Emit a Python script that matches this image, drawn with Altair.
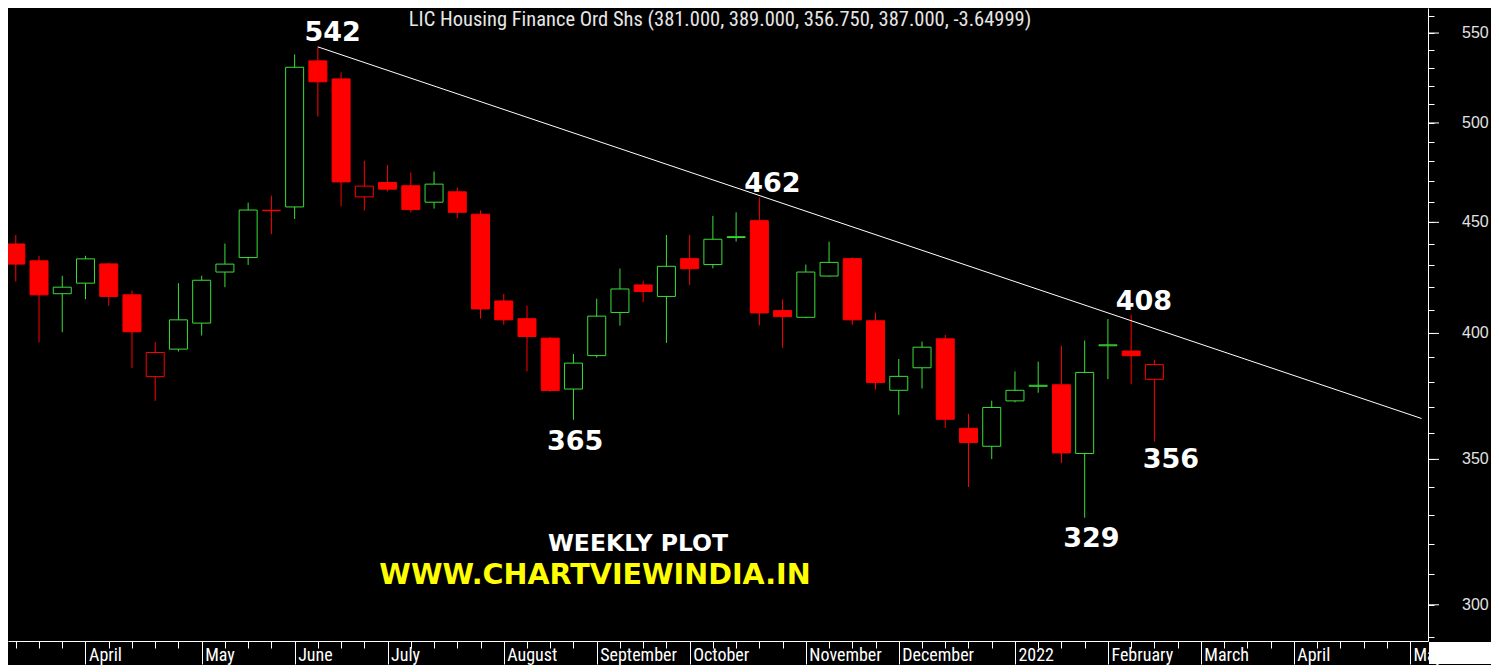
import altair as alt
import numpy as np
import pandas as pd

# ---------------- data (weekly candles) ----------------
bar_index = list(range(50))
opens = [439.8, 432.0, 417.2, 421.9, 430.6, 416.7, 382.1, 393.4, 404.4, 426.9,
         433.5, 455.8, 457.4, 534.0, 523.9, 462.3, 469.4, 467.8, 459.7, 464.8,
         453.9, 414.0, 406.3, 398.0, 377.1, 390.7, 409.0, 421.1, 416.0, 433.0,
         430.3, 442.8, 450.8, 409.8, 406.9, 425.1, 433.0, 405.4, 376.6, 385.7,
         397.7, 361.7, 354.9, 372.4, 378.2, 378.8, 352.2, 394.8, 392.6, 381.0]
highs = [444.0, 434.3, 425.2, 434.3, 431.0, 418.6, 396.4, 421.9, 425.2, 440.0,
         459.5, 462.9, 537.7, 542.0, 527.6, 480.3, 478.2, 474.4, 474.9, 466.9,
         455.7, 417.1, 412.0, 398.4, 391.4, 415.0, 428.5, 423.0, 444.0, 444.0,
         453.1, 454.8, 462.0, 414.7, 430.3, 440.9, 433.5, 408.9, 389.3, 396.6,
         399.4, 367.3, 372.5, 384.2, 388.2, 394.8, 397.0, 406.2, 408.0, 389.0]
lows = [422.6, 396.2, 400.5, 414.8, 411.9, 385.6, 372.4, 392.4, 399.1, 420.1,
        430.1, 444.4, 451.6, 503.4, 457.7, 455.7, 465.0, 454.8, 456.6, 452.0,
        406.3, 403.7, 384.2, 376.0, 365.0, 389.9, 403.3, 413.5, 396.0, 421.1,
        428.6, 440.9, 403.4, 393.9, 406.5, 424.8, 403.7, 376.9, 366.9, 377.3,
        361.9, 339.9, 350.1, 371.8, 375.6, 348.6, 329.0, 381.1, 379.0, 356.75]
closes = [430.5, 416.7, 420.1, 432.9, 416.0, 400.7, 392.0, 405.8, 423.2, 430.5,
          455.9, 455.6, 530.4, 522.3, 469.7, 467.6, 466.1, 456.1, 468.6, 454.8,
          410.5, 405.8, 398.7, 376.5, 387.6, 407.4, 419.3, 418.2, 429.5, 428.4,
          442.0, 443.2, 408.8, 407.2, 426.9, 431.3, 405.8, 379.7, 382.2, 394.2,
          365.2, 356.3, 369.8, 376.6, 378.6, 352.4, 383.8, 395.2, 390.65, 387.0]

# month start bars (x-axis labels)
month_starts = [3, 8, 12, 16, 21, 25, 29, 34, 38, 43, 47, 51, 55, 60]
month_names = ["April", "May", "June", "July", "August", "September", "October",
               "November", "December", "2022", "February", "March", "April", "May"]
week_ticks = list(range(0, 61))

# price axis ticks
price_ticks = list(range(290, 561, 10))
price_major = [300, 350, 400, 450, 500, 550]
price_major_labels = ["300", "350", "400", "450", "500", "550"]

# trend line (two anchor points)
trend_x = [13, 60.5]
trend_y = [542.0, 365.5]

# annotations
ann_text = ["542", "462", "365", "408", "329", "356"]
ann_x = [13.64, 32.56, 24.07, 48.55, 46.29, 49.71]
ann_y = [550.0, 468.7, 356.6, 413.6, 321.7, 349.8]

title_text = "LIC Housing Finance Ord Shs (381.000, 389.000, 356.750, 387.000, -3.64999)"

# ---------------- frames ----------------
df = pd.DataFrame({"i": bar_index, "open": opens, "high": highs,
                   "low": lows, "close": closes})
prev = df["close"].shift(1)
df["trend"] = np.where(prev.isna() | (df["close"] < prev), "down", "up")
df["hollow"] = df["close"] >= df["open"]

trend_df = pd.DataFrame({"x": trend_x, "y": trend_y})
ann_df = pd.DataFrame({"x": ann_x, "y": ann_y, "t": ann_text})
major_df = pd.DataFrame({"v": price_major, "lab": price_major_labels})

GREEN = "#3ade3a"
RED = "#ff0000"
NARROW = "Liberation Sans Narrow, Roboto Condensed, DejaVu Sans Condensed, Liberation Sans, sans-serif"

xscale = alt.Scale(domain=[-0.12, 60.56], nice=False, zero=False)
yscale = alt.Scale(type="log", domain=[288.7, 564.8], nice=False, zero=False)
cscale = alt.Scale(domain=["up", "down"], range=[GREEN, RED])

x_axis = alt.Axis(
    values=week_ticks,
    orient="bottom",
    title=None,
    grid=False,
    domainColor="white",
    domainWidth=1,
    tickColor="white",
    tickWidth=1,
    tickSize={"condition": {"test": f"indexof({month_starts}, datum.value) >= 0", "value": 23},
              "value": 7},
    labelExpr=(f"indexof({month_starts}, datum.value) >= 0 ? "
               f"{month_names}[indexof({month_starts}, datum.value)] : ''"),
    labelAlign="left",
    labelBaseline="top",
    labelOffset=3,
    labelPadding=-18,
    labelColor="white",
    labelFont=NARROW,
    labelFontSize=18,
    labelOverlap=False,
    labelFlush=False,
)

y_axis = alt.Axis(
    values=price_ticks,
    orient="right",
    title=None,
    grid=False,
    domainColor="white",
    domainWidth=1,
    tickColor="white",
    tickWidth=1,
    tickSize=6,
    labels=False,
)

X = dict(scale=xscale, axis=x_axis)
Y = dict(scale=yscale, axis=y_axis)

base = alt.Chart(df)

wicks = base.mark_rule(strokeWidth=1, clip=True).encode(
    x=alt.X("i:Q", **X),
    y=alt.Y("low:Q", **Y),
    y2="high:Q",
    color=alt.Color("trend:N", scale=cscale, legend=None),
)

bodies = base.mark_bar(size=18, strokeWidth=1, clip=True).encode(
    x=alt.X("i:Q", **X),
    y=alt.Y("open:Q", **Y),
    y2="close:Q",
    stroke=alt.Stroke("trend:N", scale=cscale, legend=None),
    fill=alt.condition("datum.hollow", alt.value("black"),
                       alt.Fill("trend:N", scale=cscale, legend=None)),
)

trendline = alt.Chart(trend_df).mark_line(color="white", strokeWidth=1, clip=True).encode(
    x=alt.X("x:Q", **X),
    y=alt.Y("y:Q", **Y),
)

# longer ticks and labels for the labelled prices on the right axis
major_ticks = alt.Chart(major_df).mark_rule(color="white", strokeWidth=1, clip=False).encode(
    y=alt.Y("v:Q", **Y),
    x=alt.value(1420),
    x2=alt.value(1431),
)

price_labels = alt.Chart(major_df).mark_text(
    font="Liberation Sans", fontSize=16, color="#e2e2e2",
    align="left", baseline="middle", clip=False,
).encode(
    y=alt.Y("v:Q", **Y),
    x=alt.value(1454),
    text="lab:N",
)

labels = alt.Chart(ann_df).mark_text(
    font="DejaVu Sans", fontWeight="bold", fontSize=27, color="white",
    align="center", baseline="middle",
).encode(
    x=alt.X("x:Q", **X),
    y=alt.Y("y:Q", **Y),
    text="t:N",
)

title = alt.Chart(pd.DataFrame({"t": [title_text]})).mark_text(
    font=NARROW, fontSize=20.5, color="#e6e6e6", align="center", baseline="middle",
).encode(x=alt.value(712), y=alt.value(12), text="t:N")

weekly = alt.Chart(pd.DataFrame({"t": ["WEEKLY PLOT"]})).mark_text(
    font="DejaVu Sans", fontWeight="bold", fontSize=23.5, color="white",
    align="center", baseline="middle",
).encode(x=alt.value(630), y=alt.value(536), text="t:N")

site = alt.Chart(pd.DataFrame({"t": ["WWW.CHARTVIEWINDIA.IN"]})).mark_text(
    font="DejaVu Sans", fontWeight="bold", fontSize=28.6, color="#ffff00",
    align="center", baseline="middle",
).encode(x=alt.value(587), y=alt.value(567), text="t:N")

corner = alt.Chart(pd.DataFrame({"t": [0]})).mark_rect(color="white", clip=False).encode(
    x=alt.value(1421), x2=alt.value(1483), y=alt.value(634), y2=alt.value(656)
)

chart = alt.layer(
    wicks, bodies, trendline, major_ticks, price_labels, labels, title, weekly, site, corner
).properties(
    width=1420, height=633,
    background="black",
    padding={"left": 0, "top": 0, "right": 0, "bottom": 0},
).configure_view(stroke=None)

chart.save("out.html", embed_options={"renderer": "svg", "actions": False})
